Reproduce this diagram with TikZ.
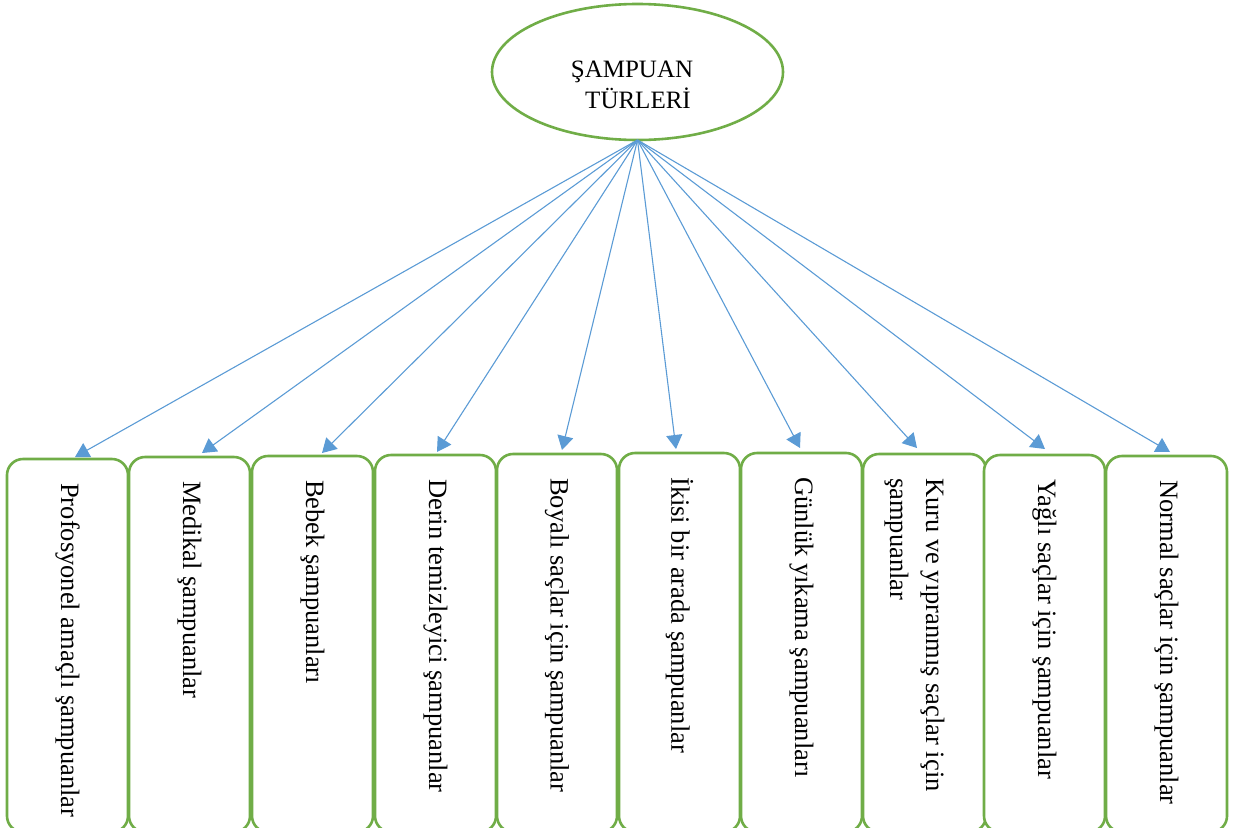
\documentclass[tikz,border=0pt]{standalone}
\usepackage{fontspec}
\setmainfont{Liberation Serif}
\usetikzlibrary{arrows.meta,shapes.geometric}
\definecolor{boxgreen}{HTML}{70AD47}
\definecolor{arrowblue}{HTML}{5B9BD5}
\tikzset{
  typebox/.style={draw=boxgreen, line width=2.6pt, rectangle, rounded corners=16pt, fill=white, inner sep=0pt, outer sep=0pt},
  typetext/.style={rotate=-90, anchor=west, inner sep=0pt, align=left, font=\fontsize{26.5}{36}\selectfont},
  topell/.style={draw=boxgreen, line width=2.6pt, ellipse, inner sep=0pt, outer sep=0pt},
  toptext/.style={align=center, inner sep=0pt, font=\fontsize{25}{31}\selectfont},
  conn/.style={draw=arrowblue, line width=1.1pt, -{Triangle[length=14pt,width=16pt]}}
}
\begin{document}
\begin{tikzpicture}[x=1pt,y=-1pt]
\useasboundingbox (0,0) rectangle (1238,827);
% top ellipse
\node[topell, minimum width=291pt, minimum height=136pt] (e) at (637.5,72) {};
\node[toptext] (et) at (635,85.2) {ŞAMPUAN\hspace*{6pt}\\\hspace*{6pt}TÜRLERİ};
% boxes
\node[typebox, minimum width=121pt, minimum height=373pt] (b1) at (67.5,645.5) {};
\node[typebox, minimum width=121pt, minimum height=375pt] (b2) at (189.5,644.5) {};
\node[typebox, minimum width=121pt, minimum height=376pt] (b3) at (312.5,644) {};
\node[typebox, minimum width=121pt, minimum height=377pt] (b4) at (435.5,643.5) {};
\node[typebox, minimum width=120pt, minimum height=378pt] (b5) at (557,643) {};
\node[typebox, minimum width=121pt, minimum height=379pt] (b6) at (679.5,642.5) {};
\node[typebox, minimum width=121pt, minimum height=379pt] (b7) at (801.5,642.5) {};
\node[typebox, minimum width=123pt, minimum height=378pt] (b8) at (924.5,643) {};
\node[typebox, minimum width=121pt, minimum height=377pt] (b9) at (1044.5,643.5) {};
\node[typebox, minimum width=121pt, minimum height=376pt] (b10) at (1166.5,644) {};
% texts
\node[typetext] (t1) at ([yshift=-24pt]b1.north) {Profosyonel amaçlı şampuanlar};
\node[typetext] (t2) at ([yshift=-24pt]b2.north) {Medikal şampuanlar};
\node[typetext] (t3) at ([yshift=-24pt]b3.north) {Bebek şampuanları};
\node[typetext] (t4) at ([yshift=-24pt]b4.north) {Derin temizleyici şampuanlar};
\node[typetext] (t5) at ([yshift=-24pt]b5.north) {Boyalı saçlar için şampuanlar};
\node[typetext] (t6) at ([yshift=-24pt]b6.north) {İkisi bir arada şampuanlar};
\node[typetext] (t7) at ([yshift=-24pt]b7.north) {Günlük yıkama şampuanları};
\node[typetext] (t8) at ([xshift=-10pt,yshift=-24pt]b8.north) {Kuru ve yıpranmış saçlar için\\şampuanlar};
\node[typetext] (t9) at ([yshift=-24pt]b9.north) {Yağlı saçlar için şampuanlar};
\node[typetext] (t10) at ([yshift=-24pt]b10.north) {Normal saçlar için şampuanlar};
% connectors
\draw[conn] (e.south) -- ([xshift=7.5pt,yshift=2pt]b1.north);
\draw[conn] (e.south) -- ([xshift=12.5pt,yshift=4pt]b2.north);
\draw[conn] (e.south) -- ([xshift=9.5pt,yshift=3pt]b3.north);
\draw[conn] (e.south) -- ([xshift=1.5pt,yshift=3pt]b4.north);
\draw[conn] (e.south) -- ([xshift=5pt,yshift=4pt]b5.north);
\draw[conn] (e.south) -- ([xshift=-3.5pt,yshift=4pt]b6.north);
\draw[conn] (e.south) -- ([xshift=-1.5pt,yshift=5pt]b7.north);
\draw[conn] (e.south) -- ([xshift=-7.5pt,yshift=6pt]b8.north);
\draw[conn] (e.south) -- ([xshift=0.5pt,yshift=6pt]b9.north);
\draw[conn] (e.south) -- ([xshift=3.5pt,yshift=4pt]b10.north);
\end{tikzpicture}
\end{document}
